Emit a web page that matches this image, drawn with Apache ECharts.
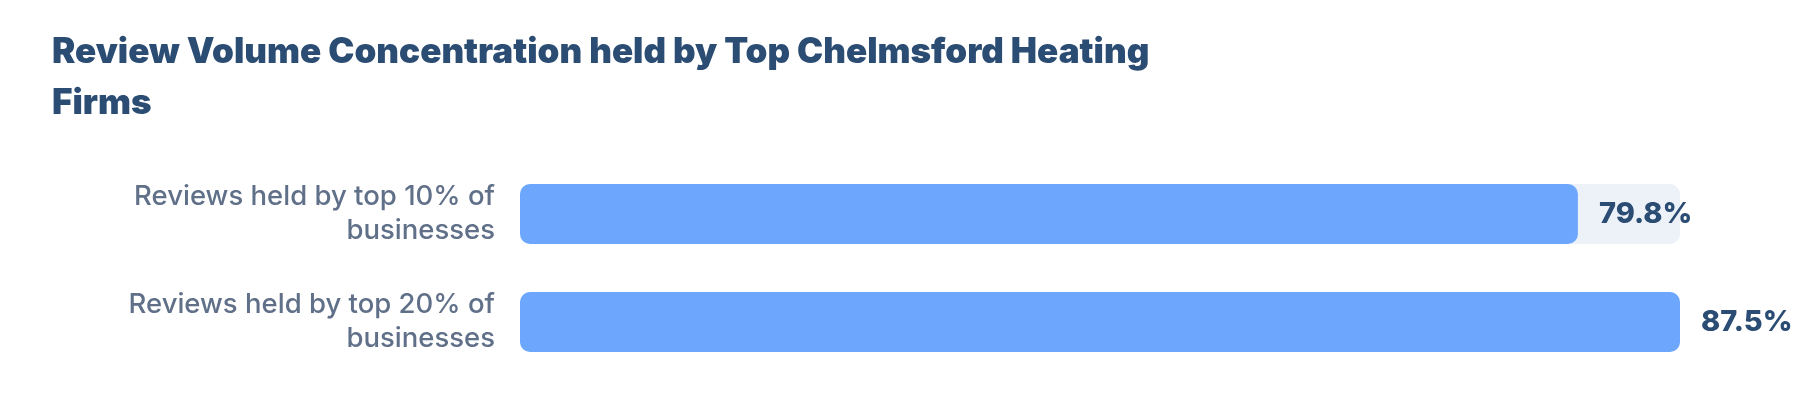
<!DOCTYPE html>
<html>
<head>
<meta charset="utf-8">
<script src="https://cdn.jsdelivr.net/npm/echarts@6/dist/echarts.min.js"></script>
<style>
html,body{margin:0;padding:0;background:#fff;}
#chart{width:1800px;height:420px;}
</style>
</head>
<body>
<div id="chart"></div>
<script>
const titleText = 'Review Volume Concentration held by Top Chelmsford Heating Firms';
const categories = ['Reviews held by top 10% of businesses', 'Reviews held by top 20% of businesses'];
const values = [79.8, 87.5];

function wrapWords(text, maxChars) {
  const words = text.split(' ');
  const lines = [];
  let cur = '';
  words.forEach(w => {
    const next = cur ? cur + ' ' + w : w;
    if (next.length > maxChars && cur) { lines.push(cur); cur = w; }
    else cur = next;
  });
  if (cur) lines.push(cur);
  return lines.join('\n');
}

const chart = echarts.init(document.getElementById('chart'));
chart.setOption({
  backgroundColor: '#ffffff',
  title: {
    text: titleText,
    left: 47,
    top: 22,
    textStyle: {
      fontFamily: 'Inter',
      fontWeight: 900,
      fontSize: 35,
      color: '#2b4c73',
      lineHeight: 51,
      width: 1150,
      overflow: 'break'
    }
  },
  grid: { left: 520, right: 120, top: 160, bottom: 44 },
  xAxis: {
    type: 'value',
    min: 0,
    max: 'dataMax',
    show: false
  },
  yAxis: {
    type: 'category',
    data: categories,
    inverse: true,
    axisLine: { show: false },
    axisTick: { show: false },
    splitLine: { show: false },
    axisLabel: {
      margin: 25,
      align: 'right',
      formatter: v => wrapWords(v, 26),
      fontFamily: 'Inter',
      fontWeight: 500,
      fontSize: 27.5,
      lineHeight: 34,
      color: '#607089'
    }
  },
  series: [{
    type: 'bar',
    data: values,
    barWidth: 60,
    showBackground: true,
    backgroundStyle: { color: '#edf2f9', borderRadius: 10 },
    itemStyle: { color: '#6da7fd', borderRadius: 10 },
    label: {
      show: true,
      position: 'right',
      distance: 21,
      formatter: '{c}%',
      fontFamily: 'Inter',
      fontWeight: 800,
      fontSize: 29,
      color: '#2b4c73'
    },
    silent: true,
    animation: false
  }],
  animation: false
});
</script>
</body>
</html>
